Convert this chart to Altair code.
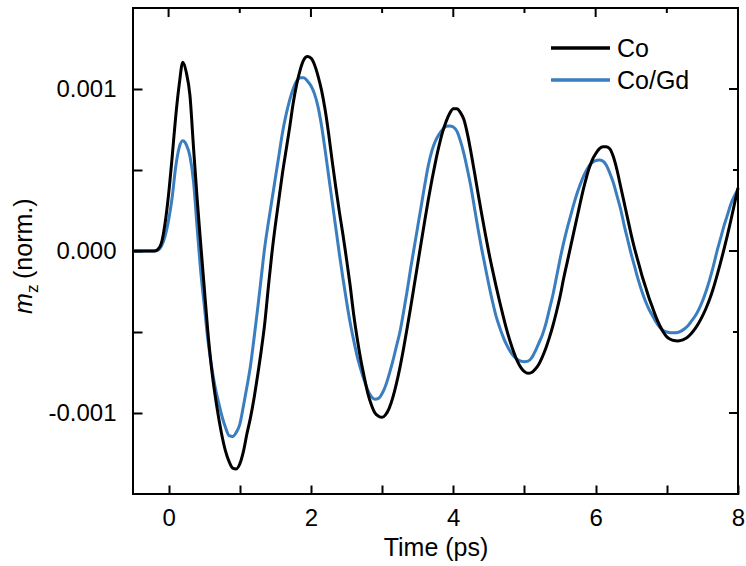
import altair as alt
import numpy as np
import pandas as pd

# time axis sampling (ps)
time_ps = np.round(np.arange(-0.5, 8.0001, 0.05), 2)

# m_z in units of 1e-3 (norm.)
co_e3 = [
    0, 0, 0, 0, 0, 0, 0, 0.01, 0.05, 0.17,
    0.35, 0.58, 0.83, 1.03, 1.165, 1.10, 0.96, 0.64, 0.33, 0.05,
    -0.22, -0.49, -0.71, -0.88, -1.02, -1.14, -1.235, -1.30, -1.34, -1.345,
    -1.315, -1.24, -1.13, -1.03, -0.91, -0.77, -0.62, -0.45, -0.23, -0.02,
    0.16, 0.32, 0.48, 0.62, 0.76, 0.91, 1.03, 1.12, 1.18, 1.20,
    1.19, 1.15, 1.08, 0.99, 0.87, 0.72, 0.55, 0.39, 0.24, 0.10,
    -0.05, -0.21, -0.39, -0.54, -0.67, -0.78, -0.88, -0.95, -1.00, -1.02,
    -1.027, -1.01, -0.97, -0.905, -0.82, -0.72, -0.605, -0.48, -0.35, -0.215,
    -0.08, 0.055, 0.19, 0.32, 0.44, 0.55, 0.65, 0.735, 0.80, 0.85,
    0.878, 0.878, 0.855, 0.81, 0.72, 0.605, 0.48, 0.35, 0.225, 0.105,
    -0.01, -0.115, -0.215, -0.31, -0.40, -0.485, -0.56, -0.625, -0.68, -0.72,
    -0.745, -0.755, -0.75, -0.73, -0.70, -0.655, -0.60, -0.535, -0.46, -0.375,
    -0.28, -0.17, -0.07, 0.03, 0.13, 0.23, 0.33, 0.42, 0.50, 0.56,
    0.60, 0.63, 0.643, 0.644, 0.63, 0.58, 0.50, 0.40, 0.30, 0.20,
    0.10, 0.01, -0.07, -0.15, -0.22, -0.29, -0.35, -0.41, -0.46, -0.50,
    -0.53, -0.545, -0.553, -0.555, -0.552, -0.543, -0.528, -0.506, -0.478, -0.443,
    -0.402, -0.355, -0.30, -0.235, -0.16, -0.08, 0.005, 0.095, 0.19, 0.29,
    0.39,
]

cogd_e3 = [
    0, 0, 0, 0, 0, 0, 0, 0.005, 0.03, 0.09,
    0.19, 0.33, 0.52, 0.64, 0.68, 0.655, 0.585, 0.43, 0.15, -0.12,
    -0.33, -0.54, -0.70, -0.83, -0.93, -1.02, -1.09, -1.14, -1.145, -1.12,
    -1.07, -0.96, -0.84, -0.71, -0.54, -0.36, -0.17, 0.02, 0.17, 0.31,
    0.45, 0.59, 0.73, 0.84, 0.93, 1.00, 1.05, 1.07, 1.07, 1.05,
    1.02, 0.97, 0.89, 0.77, 0.62, 0.46, 0.30, 0.14, -0.02, -0.17,
    -0.31, -0.44, -0.55, -0.65, -0.73, -0.80, -0.86, -0.90, -0.915, -0.91,
    -0.88, -0.83, -0.76, -0.68, -0.59, -0.50, -0.38, -0.25, -0.11, 0.02,
    0.15, 0.28, 0.41, 0.53, 0.62, 0.68, 0.72, 0.75, 0.77, 0.772,
    0.765, 0.74, 0.68, 0.60, 0.50, 0.39, 0.26, 0.13, 0.01, -0.10,
    -0.21, -0.31, -0.40, -0.47, -0.53, -0.58, -0.62, -0.65, -0.67, -0.68,
    -0.683, -0.68, -0.66, -0.62, -0.57, -0.52, -0.45, -0.36, -0.27, -0.16,
    -0.05, 0.05, 0.14, 0.22, 0.30, 0.37, 0.43, 0.48, 0.52, 0.545,
    0.558, 0.562, 0.555, 0.53, 0.48, 0.42, 0.34, 0.26, 0.16, 0.07,
    -0.02, -0.10, -0.18, -0.25, -0.31, -0.36, -0.40, -0.44, -0.47, -0.49,
    -0.50, -0.504, -0.505, -0.503, -0.495, -0.48, -0.46, -0.43, -0.40, -0.36,
    -0.31, -0.25, -0.18, -0.10, -0.01, 0.07, 0.15, 0.22, 0.29, 0.34,
    0.38,
]

series_names = ["Co", "Co/Gd"]
series_colors = ["#000000", "#3a7ebf"]

x_major = [0, 2, 4, 6, 8]
x_minor = [1, 3, 5, 7]
y_major = [-1, 0, 1]
y_minor = [-0.5, 0.5]

# ---------------------------------------------------------------------------
W, H = 605, 486
FONT = "Liberation Sans"
MAJOR, MINOR = 9, 5          # inward tick lengths in px

XDOM = [-0.5, 8.0]
YDOM = [-1.5, 1.5]
xscale = alt.Scale(domain=XDOM, nice=False, zero=False)
yscale = alt.Scale(domain=YDOM, nice=False, zero=False)

df = pd.concat([
    pd.DataFrame({"t": time_ps, "v": cogd_e3, "series": series_names[1]}),
    pd.DataFrame({"t": time_ps, "v": co_e3, "series": series_names[0]}),
], ignore_index=True)

ylabel_expr = ("abs(datum.value) % 1 === 0 ? "
               "((datum.value < 0 ? '-' : '') + format(abs(datum.value) / 1000, '.3f')) : ''")
xlabel_expr = "datum.value % 2 === 0 ? datum.label : ''"

# inward ticks on the bottom / left axes (negative tick length via expression)
x_axis = alt.Axis(
    orient="bottom", values=sorted(x_major + x_minor), ticks=True,
    tickSize={"expr": str(-MAJOR)}, tickWidth=2, tickColor="black",
    domain=False, grid=False, labelExpr=xlabel_expr,
    labelFontSize=24, labelFont=FONT, labelColor="black", labelPadding=21,
    labelFlush=False, title="Time (ps)", titleFont=FONT, titleFontSize=25,
    titleFontWeight="normal", titleColor="black", titlePadding=5)
y_axis = alt.Axis(
    orient="left", values=sorted(y_major + y_minor), ticks=True,
    tickSize={"expr": str(-MAJOR)}, tickWidth=2, tickColor="black",
    domain=False, grid=False, labelExpr=ylabel_expr,
    labelFontSize=24, labelFont=FONT, labelColor="black", labelPadding=26,
    title=None)

color = alt.Color(
    "series:N",
    scale=alt.Scale(domain=series_names, range=series_colors),
    legend=None,
)

lines = alt.Chart(df).mark_line(strokeWidth=3, interpolate="monotone").encode(
    x=alt.X("t:Q", scale=xscale, axis=x_axis, title="Time (ps)"),
    y=alt.Y("v:Q", scale=yscale, axis=y_axis, title=None),
    color=color,
    detail="series:N",
)

one = pd.DataFrame({"k": [0]})


# inward ticks on the top / right edges (axis decoration, linear scale mapping)
def px_x(t):
    return (t - XDOM[0]) / (XDOM[1] - XDOM[0]) * W


def px_y(v):
    return (YDOM[1] - v) / (YDOM[1] - YDOM[0]) * H


tick_layers = []
for vals, size in ((x_major, MAJOR), (x_minor, MINOR)):
    for t in vals:
        tick_layers.append(alt.Chart(one).mark_rule(color="black", strokeWidth=2).encode(
            x=alt.value(px_x(t)), y=alt.value(0), y2=alt.value(size)))
for vals, size in ((y_major, MAJOR), (y_minor, MINOR)):
    for v in vals:
        tick_layers.append(alt.Chart(one).mark_rule(color="black", strokeWidth=2).encode(
            y=alt.value(px_y(v)), x=alt.value(W), x2=alt.value(W - size)))

# legend (manual, inside plot, top right)
leg = []
for i, (name, col) in enumerate(zip(series_names, series_colors)):
    yy = 40 + 32 * i
    leg.append(alt.Chart(one).mark_rule(color=col, strokeWidth=3.5).encode(
        x=alt.value(418), x2=alt.value(477), y=alt.value(yy)))
    leg.append(alt.Chart(pd.DataFrame({"s": [name]})).mark_text(
        align="left", baseline="middle", font=FONT, fontSize=25, color="black").encode(
        text="s:N", x=alt.value(484), y=alt.value(yy + 1)))

# y-axis title: italic m, subscript z, "(norm.)"
ytitle = [
    alt.Chart(pd.DataFrame({"s": ["m"]})).mark_text(
        angle=270, align="left", baseline="alphabetic", font=FONT, fontSize=25,
        fontStyle="italic", color="black").encode(
        text="s:N", x=alt.value(-101), y=alt.value(306)),
    alt.Chart(pd.DataFrame({"s": ["z"]})).mark_text(
        angle=270, align="left", baseline="alphabetic", font=FONT, fontSize=17,
        color="black").encode(
        text="s:N", x=alt.value(-95), y=alt.value(285)),
    alt.Chart(pd.DataFrame({"s": ["(norm.)"]})).mark_text(
        angle=270, align="left", baseline="alphabetic", font=FONT, fontSize=25,
        color="black").encode(
        text="s:N", x=alt.value(-101), y=alt.value(271)),
]

chart = alt.layer(lines, *tick_layers, *leg, *ytitle).properties(
    width=W, height=H,
    autosize=alt.AutoSizeParams(type="none"),
    padding={"left": 133, "top": 8, "right": 8, "bottom": 72},
).configure_view(stroke="black", strokeWidth=2)

chart.save("out.html", embed_options={"renderer": "svg", "actions": False})
